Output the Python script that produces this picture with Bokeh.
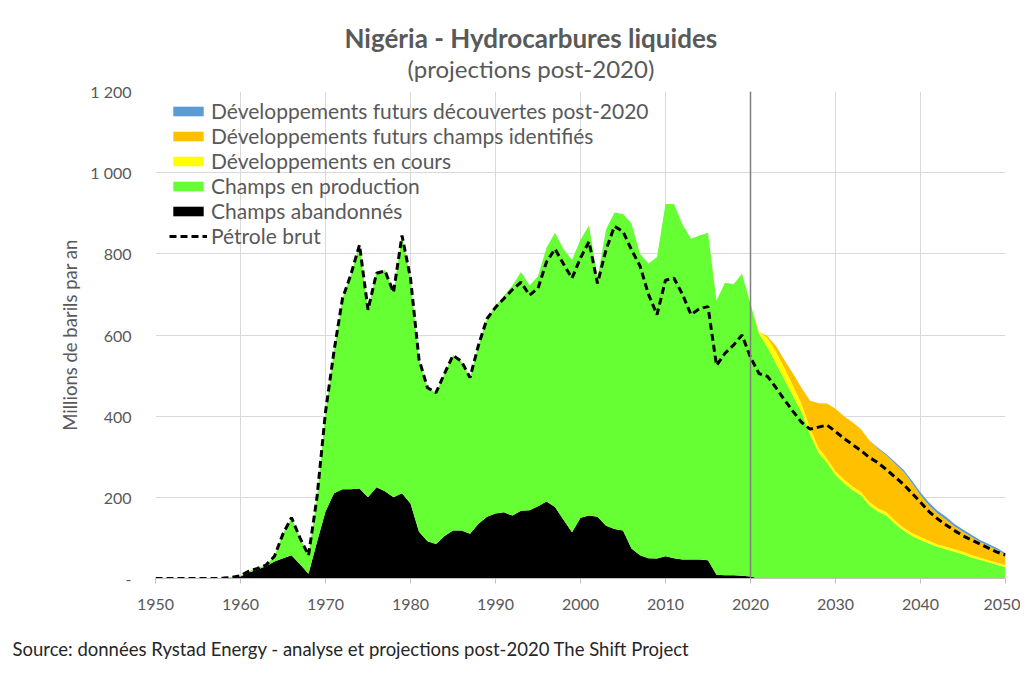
from bokeh.plotting import figure
from bokeh.models import ColumnDataSource, Legend, LegendItem, Span, Range1d, FixedTicker, Title
from bokeh.embed import file_html
from bokeh.resources import INLINE

years = list(range(1950, 2051))

# Champs abandonnés (black layer thickness)
abandonnes = [0]*8 + [
    1, 2, 5, 15, 22, 30, 42, 50, 57, 35, 12, 90,            # 1958-1969
    165, 210, 220, 220, 222, 200, 225, 215, 200, 210,       # 1970-1979
    185, 115, 92, 85, 105, 118, 118, 110, 135, 152,         # 1980-1989
    160, 163, 155, 167, 168, 178, 190, 176, 145, 114,       # 1990-1999
    150, 155, 152, 130, 122, 118, 74, 57, 50, 49,           # 2000-2009
    55, 50, 47, 47, 47, 45, 9, 8, 8, 7,                     # 2010-2019
    5] + [0]*30                                             # 2020, 2021-2050

# Top of "Champs en production" (green)
production_top = [0]*8 + [
    1, 3, 7, 18, 25, 33, 55, 110, 150, 100, 57, 200,        # 1958-1969
    410, 560, 690, 750, 822, 662, 755, 760, 705, 845,       # 1970-1979
    740, 540, 470, 458, 505, 550, 535, 495, 575, 640,       # 1980-1989
    672, 697, 722, 755, 722, 745, 815, 852, 812, 785,       # 1990-1999
    835, 870, 740, 860, 902, 898, 875, 800, 776, 792,       # 2000-2009
    923, 923, 872, 837, 845, 852, 685, 729, 725, 751,       # 2010-2019
    677, 603, 570, 530, 490, 450, 410, 355, 310, 285,       # 2020-2029
    255, 235, 218, 205, 180, 165, 155, 135, 118, 105,       # 2030-2039
    95, 86, 78, 72, 66, 60, 52, 46, 40, 34,                 # 2040-2049
    28]                                                     # 2050

# Développements en cours (yellow)
en_cours = [0]*71 + [
    5, 22, 28, 28, 25, 20, 15, 12, 10,                      # 2021-2029
    9, 9, 9, 8, 8, 8, 8, 8, 7, 7,                           # 2030-2039
    7, 7, 6, 6, 6, 6, 6, 5, 5, 5,                           # 2040-2049
    5]

# Développements futurs champs identifiés (orange)
champs_identifies = [0]*71 + [
    0, 5, 15, 20, 30, 40, 68, 110, 136,                     # 2021-2029
    154, 156, 158, 155, 152, 147, 140, 140, 138, 123,       # 2030-2039
    103, 87, 76, 67, 56, 49, 44, 39, 35, 31,                # 2040-2049
    25]

# Développements futurs découvertes post-2020 (blue)
decouvertes = [0]*85 + [
    2, 3, 4, 5, 6,                                          # 2035-2039
    7, 7, 7, 7, 6, 6, 6, 5, 5, 5,                           # 2040-2049
    4]

# Pétrole brut (dashed line)
petrole_brut = [0]*8 + [
    1, 3, 7, 18, 25, 33, 55, 110, 150, 100, 57, 200,        # 1958-1969
    410, 560, 690, 750, 822, 662, 752, 758, 705, 845,       # 1970-1979
    740, 540, 470, 458, 505, 550, 535, 495, 575, 640,       # 1980-1989
    668, 690, 712, 730, 698, 715, 780, 812, 775, 740,       # 1990-1999
    790, 830, 727, 810, 868, 855, 810, 770, 700, 650,       # 2000-2009
    735, 740, 700, 650, 665, 670, 525, 555, 575, 600,       # 2010-2019
    545, 505, 498, 470, 440, 412, 385, 368, 373, 378,       # 2020-2029
    362, 345, 330, 315, 298, 285, 268, 250, 232, 210,       # 2030-2039
    188, 165, 147, 132, 118, 105, 95, 85, 75, 65,           # 2040-2049
    58]

x_ticks = list(range(1950, 2051, 10))
y_ticks = [0, 200, 400, 600, 800, 1000, 1200]
y_tick_labels = {0: "-", 200: "200", 400: "400", 600: "600", 800: "800", 1000: "1 000", 1200: "1 200"}

production = [t - a for t, a in zip(production_top, abandonnes)]

source = ColumnDataSource(dict(year=years, aband=abandonnes, prod=production,
                               cours=en_cours, ident=champs_identifies,
                               decouv=decouvertes, brut=petrole_brut))

FONT = "Lato"
TXT = "#595959"

p = figure(width=1020, height=661, output_backend="svg", toolbar_location=None,
           title=None,
           x_range=Range1d(1950, 2050), y_range=Range1d(0, 1200),
           min_border_left=155, min_border_right=15, min_border_top=91, min_border_bottom=83)
p.outline_line_color = None
p.background_fill_color = "white"

colors = ["#000000", "#66ff33", "#ffff00", "#ffc000", "#5b9bd5"]
areas = p.varea_stack(["aband", "prod", "cours", "ident", "decouv"], x="year",
                      color=colors, source=source)
line = p.line("year", "brut", source=source, line_color="black", line_width=3,
              line_dash="7 4")

p.add_layout(Span(location=2020, dimension="height", line_color="#7f7f7f", line_width=1.5))

# axes
p.xaxis.ticker = FixedTicker(ticks=x_ticks)
p.xgrid.ticker = FixedTicker(ticks=x_ticks)
p.yaxis.ticker = FixedTicker(ticks=y_ticks)
p.ygrid.ticker = FixedTicker(ticks=y_ticks)
p.yaxis.major_label_overrides = y_tick_labels
for g in (p.xgrid, p.ygrid):
    g.grid_line_color = "#d9d9d9"
    g.grid_line_width = 1
p.xaxis.axis_line_color = "#bfbfbf"
p.xaxis.major_tick_line_color = "#bfbfbf"
p.xaxis.major_tick_out = 5
p.xaxis.major_tick_in = 0
p.xaxis.minor_tick_line_color = None
p.xaxis.major_label_standoff = 15
p.yaxis.axis_line_color = None
p.yaxis.major_tick_line_color = None
p.yaxis.minor_tick_line_color = None
p.yaxis.major_label_standoff = 18
for ax in (p.xaxis, p.yaxis):
    ax.major_label_text_font = FONT
    ax.major_label_text_font_size = "16px"
    ax.major_label_text_color = TXT
p.yaxis.axis_label = "Millions de barils par an"
p.yaxis.axis_label_text_font = FONT
p.yaxis.axis_label_text_font_size = "18.5px"
p.yaxis.axis_label_text_font_style = "normal"
p.yaxis.axis_label_text_color = TXT
p.yaxis.axis_label_standoff = 6

legend = Legend(items=[
    LegendItem(label="Développements futurs découvertes post-2020", renderers=[areas[4]]),
    LegendItem(label="Développements futurs champs identifiés", renderers=[areas[3]]),
    LegendItem(label="Développements en cours", renderers=[areas[2]]),
    LegendItem(label="Champs en production", renderers=[areas[1]]),
    LegendItem(label="Champs abandonnés", renderers=[areas[0]]),
    LegendItem(label="Pétrole brut", renderers=[line]),
], location=(14, 330))
legend.background_fill_alpha = 0
legend.border_line_alpha = 0
legend.padding = 0
legend.margin = 0
legend.spacing = 0
legend.glyph_width = 38
legend.glyph_height = 12
legend.label_height = 25
legend.label_standoff = 4
legend.label_text_font = FONT
legend.label_text_font_size = "21px"
legend.label_text_color = TXT
p.add_layout(legend)

# titles (first added = closest to plot) and source
subtitle = Title(text="(projections post-2020)", align="left", offset=252, standoff=18,
                 text_font=FONT, text_font_size="24px", text_font_style="normal",
                 text_color=TXT)
main_title = Title(text="Nigéria - Hydrocarbures liquides", align="left", offset=189,
                   standoff=-22, text_font=FONT, text_font_size="26px",
                   text_font_style="bold", text_color=TXT)
p.add_layout(subtitle, "above")
p.add_layout(main_title, "above")

spacer = Title(text=" ", align="left", standoff=20, text_font=FONT, text_font_size="1px")
p.add_layout(spacer, "below")
src = Title(text="Source: données Rystad Energy - analyse et projections post-2020  The Shift Project",
            align="left", offset=-143, standoff=0, text_font=FONT, text_font_size="18.5px",
            text_font_style="normal", text_color="#262626")
p.add_layout(src, "below")

open("out.html", "w").write(file_html(p, INLINE))
